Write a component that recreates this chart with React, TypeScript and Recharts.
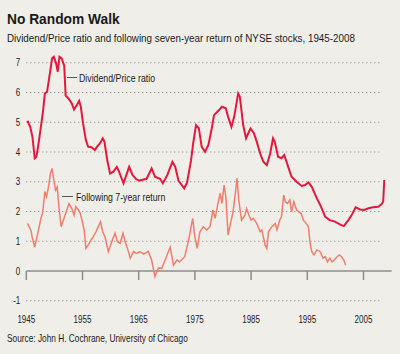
import React, { useLayoutEffect, useRef, useState } from "react";
import { LineChart, Line, XAxis, YAxis, ReferenceLine } from "recharts";

// Dividend/Price ratio
const dpYears = [
  1945.2, 1945.7, 1946.1, 1946.5, 1946.8, 1947.1, 1947.6, 1948.0, 1948.3, 1948.7,
  1949.2, 1949.6, 1949.9, 1950.3, 1950.6, 1950.9, 1951.3, 1951.6, 1951.75, 1952.0,
  1952.5, 1953.1, 1953.5, 1954.0, 1954.4, 1954.7, 1955.1, 1955.6, 1956.0, 1956.6,
  1957.2, 1957.6, 1958.1, 1958.6, 1958.9, 1959.4, 1959.9, 1960.5, 1961.1, 1961.5,
  1962.3, 1962.9, 1963.3, 1963.9, 1964.6, 1965.2, 1966.4, 1967.3, 1967.9, 1968.8,
  1969.3, 1970.1, 1971.0, 1971.5, 1972.1, 1973.1, 1973.6, 1974.3, 1974.7, 1975.2,
  1975.7, 1976.2, 1976.8, 1977.4, 1978.0, 1978.4, 1979.3, 1979.8, 1980.5, 1980.9,
  1981.5, 1982.0, 1982.7, 1983.0, 1983.6, 1984.1, 1984.5, 1984.9, 1985.5, 1986.0,
  1986.7, 1987.2, 1987.8, 1988.4, 1988.9, 1989.2, 1989.8, 1990.4, 1990.9, 1991.6,
  1992.2, 1993.1, 1994.0, 1994.6, 1995.2, 1995.8, 1996.7, 1997.3, 1998.2, 1999.0,
  1999.9, 2000.8, 2001.5, 2002.3, 2002.9, 2003.6, 2004.4, 2005.1, 2005.9, 2006.7,
  2007.6, 2008.2, 2008.5, 2008.7,
];
const dpValues = [
  5.05, 4.85, 4.5, 3.79, 3.84, 4.18, 4.85, 5.41, 5.97, 6.03,
  6.65, 7.15, 7.2, 6.98, 6.7, 7.2, 7.15, 6.98, 6.9, 5.9,
  5.8, 5.63, 5.43, 5.58, 5.72, 5.52, 4.96, 4.4, 4.18, 4.16,
  4.07, 4.18, 4.29, 4.46, 4.35, 3.73, 3.28, 3.34, 3.5, 3.34,
  2.95, 3.28, 3.5, 3.23, 3.08, 3.04, 3.1, 3.45, 3.17, 3.1,
  2.95, 3.23, 3.67, 3.5, 3.03, 2.78, 2.97, 3.7, 4.3, 4.9,
  4.8, 4.18, 4.01, 4.24, 4.79, 5.24, 5.41, 5.52, 5.47, 5.19,
  4.85, 5.19, 5.97, 5.86, 4.9, 4.46, 4.63, 4.79, 4.63, 4.35,
  3.9, 3.67, 3.56, 3.96, 4.46, 4.35, 3.84, 3.79, 3.9, 3.5,
  3.17, 3.0, 2.86, 2.89, 2.98, 2.83, 2.44, 2.22, 1.82, 1.71,
  1.66, 1.57, 1.51, 1.71, 1.88, 2.14, 2.07, 2.05, 2.11, 2.14,
  2.16, 2.24, 2.33, 3.06,
];

// Following 7-year return
const retYears = [
  1945.2, 1945.5, 1945.8, 1946.1, 1946.5, 1946.9, 1947.3, 1947.6, 1947.9, 1948.3,
  1948.6, 1948.9, 1949.3, 1949.6, 1949.9, 1950.2, 1950.5, 1950.8, 1951.2, 1951.6,
  1952.2, 1952.6, 1953.1, 1953.5, 1953.8, 1954.3, 1954.6, 1954.9, 1955.3, 1955.6,
  1956.0, 1956.5, 1956.9, 1957.4, 1957.8, 1958.2, 1958.6, 1959.0, 1959.6, 1960.2,
  1960.8, 1961.2, 1961.7, 1962.2, 1962.6, 1963.0, 1963.5, 1964.1, 1964.6, 1965.2,
  1965.9, 1966.7, 1967.3, 1967.9, 1968.5, 1969.1, 1969.7, 1970.6, 1971.2, 1971.8,
  1972.3, 1973.2, 1974.0, 1974.6, 1975.0, 1975.4, 1975.9, 1976.5, 1977.1, 1977.7,
  1978.2, 1978.6, 1979.1, 1979.5, 1979.8, 1980.2, 1980.5, 1980.9, 1981.4, 1981.8,
  1982.3, 1982.5, 1982.8, 1983.3, 1983.9, 1984.2, 1984.6, 1985.0, 1985.4, 1986.0,
  1986.6, 1986.9, 1987.5, 1987.8, 1988.1, 1988.7, 1989.3, 1989.6, 1990.1, 1990.4,
  1990.8, 1991.1, 1991.5, 1991.9, 1992.2, 1992.6, 1993.1, 1993.5, 1993.9, 1994.3,
  1994.8, 1995.2, 1995.5, 1995.8, 1996.2, 1996.7, 1997.3, 1997.8, 1998.2, 1998.6,
  1999.0, 1999.4, 1999.8, 2000.3, 2000.7, 2001.1, 2001.5, 2001.8,
];
const retValues = [
  1.6, 1.49, 1.38, 1.1, 0.8, 1.15, 1.49, 1.77, 1.94, 2.67,
  2.5, 2.78, 3.28, 3.45, 3.06, 2.72, 2.83, 2.16, 1.49, 1.71,
  2.05, 2.27, 2.1, 1.88, 2.16, 2.05, 1.94, 1.71, 1.38, 0.76,
  0.87, 1.04, 1.15, 1.32, 1.49, 1.66, 1.32, 1.15, 0.65, 0.98,
  1.27, 0.98, 0.93, 1.27, 0.98, 0.76, 0.43, 0.65, 0.59, 0.65,
  0.57, 0.66, 0.37, -0.19, 0.1, 0.09, 0.37, 0.8, 0.2, 0.37,
  0.31, 0.48, 1.15, 1.77, 1.15, 0.76, 1.32, 1.49, 1.38, 1.49,
  2.05, 1.77, 2.27, 2.61, 2.27, 2.89, 2.5, 1.21, 1.66, 2.0,
  2.78, 3.12, 2.39, 1.71, 1.88, 2.1, 1.88, 1.71, 1.77, 1.6,
  1.32, 1.38, 0.87, 0.76, 1.32, 1.49, 1.6, 1.38, 1.71, 1.82,
  2.55, 2.33, 2.27, 2.39, 1.99, 2.33, 2.05, 1.99, 1.94, 1.71,
  1.6, 1.49, 0.93, 0.65, 0.54, 0.71, 0.65, 0.43, 0.48, 0.31,
  0.43, 0.31, 0.37, 0.48, 0.54, 0.48, 0.37, 0.2,
];

const yearTicks = [1945, 1955, 1965, 1975, 1985, 1995, 2005];
const valueTicks = [-1, 0, 1, 2, 3, 4, 5, 6, 7];
const gridValues = [-1, 1, 2, 3, 4, 5, 6, 7];

const dpData = dpYears.map((year, i) => ({ year, dp: dpValues[i] }));
const retData = retYears.map((year, i) => ({ year, ret: retValues[i] }));

const FONT = '"Liberation Sans", Arial, sans-serif';

// squeezes a line of text horizontally so it spans the given width
function FitText({ left, top, width, size, bold, children }: any) {
  const ref = useRef<HTMLDivElement>(null);
  const [sx, setSx] = useState(1);
  useLayoutEffect(() => {
    if (ref.current && ref.current.offsetWidth) setSx(width / ref.current.offsetWidth);
  }, [width]);
  return (
    <div
      ref={ref}
      style={{
        position: "absolute",
        left,
        top,
        fontSize: size,
        fontWeight: bold ? 700 : 400,
        lineHeight: 1,
        whiteSpace: "nowrap",
        transform: `scaleX(${sx})`,
        transformOrigin: "0 0",
      }}
    >
      {children}
    </div>
  );
}

const XTick = ({ x, y, payload }: any) => (
  <g transform={`translate(${x},${y}) scale(0.8,1)`}>
    <text x={0} y={0} dy="0.71em" textAnchor="middle" fill="#222" fontSize={10} fontFamily={FONT}>
      {payload.value}
    </text>
  </g>
);

const YTick = ({ x, y, payload }: any) => (
  <g transform={`translate(${x},${y}) scale(0.8,1)`}>
    <text x={0} y={0} dy="0.355em" textAnchor="end" fill="#222" fontSize={10} fontFamily={FONT}>
      {payload.value}
    </text>
  </g>
);

export default function App() {
  return (
    <div
      style={{
        position: "absolute",
        left: 0,
        top: 0,
        width: 400,
        height: 354,
        background: "#efeee9",
        fontFamily: FONT,
        color: "#1a1a1a",
        overflow: "hidden",
      }}
    >
      <FitText left={7} top={11.5} width={113} size={14.5} bold>
        No Random Walk
      </FitText>
      <FitText left={7} top={33.2} width={348} size={11.5}>
        Dividend/Price ratio and following seven-year return of NYSE stocks, 1945-2008
      </FitText>

      <div style={{ position: "absolute", left: 0, top: 0 }}>
        <LineChart width={400} height={354} margin={{ top: 47.9, right: 8.4, bottom: 15.8, left: 0 }}>
          <XAxis
            dataKey="year"
            type="number"
            domain={[1945, 2010]}
            ticks={yearTicks}
            allowDataOverflow
            axisLine={false}
            tickLine={false}
            tickSize={0}
            tickMargin={8}
            height={30}
            tick={<XTick />}
          />
          <YAxis
            type="number"
            domain={[-1.25, 7.5]}
            ticks={valueTicks}
            allowDataOverflow
            axisLine={false}
            tickLine={false}
            tickSize={0}
            tickMargin={6}
            width={26.3}
            tick={<YTick />}
          />
          {gridValues.map((v) => (
            <ReferenceLine
              key={"g" + v}
              segment={[{ x: 1945, y: v }, { x: 2008.2, y: v }]}
              stroke="#7d7d7d"
              strokeDasharray="1 3"
              strokeWidth={1}
            />
          ))}
          <ReferenceLine y={0} stroke="#8c8c8c" strokeWidth={1.5} />
          {yearTicks.map((t) => (
            <ReferenceLine
              key={"t" + t}
              segment={[{ x: t, y: 0 }, { x: t, y: -0.3 }]}
              stroke="#8c8c8c"
              strokeWidth={1.5}
            />
          ))}
          <Line
            data={retData}
            dataKey="ret"
            type="linear"
            stroke="#f27d6c"
            strokeWidth={1.5}
            dot={false}
            isAnimationActive={false}
          />
          <Line
            data={dpData}
            dataKey="dp"
            type="linear"
            stroke="#e5173d"
            strokeWidth={2}
            dot={false}
            isAnimationActive={false}
          />
        </LineChart>
      </div>

      <div style={{ position: "absolute", left: 67, top: 76.5, width: 10, height: 1, background: "#555" }} />
      <FitText left={79} top={72.8} width={76} size={10.5}>
        Dividend/Price ratio
      </FitText>
      <div style={{ position: "absolute", left: 62, top: 195.5, width: 11, height: 1, background: "#555" }} />
      <FitText left={76} top={191.8} width={89} size={10.5}>
        Following 7-year return
      </FitText>

      <FitText left={7} top={332.6} width={181} size={10.5}>
        Source: John H. Cochrane, University of Chicago
      </FitText>
    </div>
  );
}
